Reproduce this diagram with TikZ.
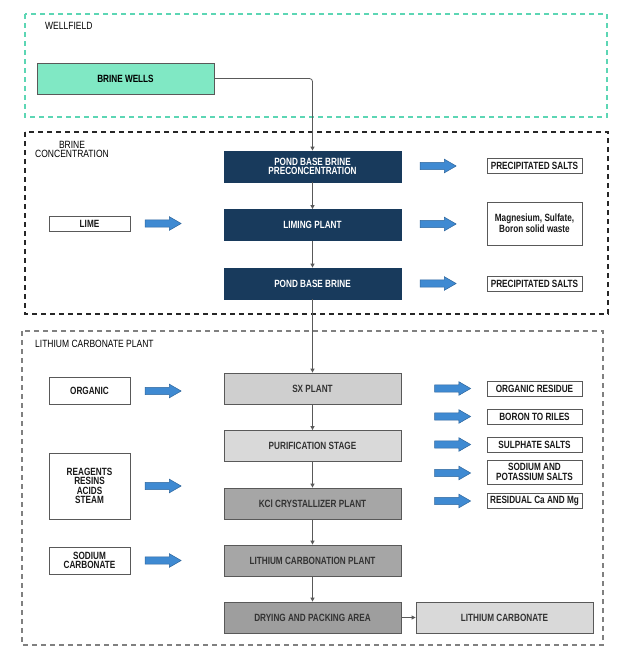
\documentclass[tikz,border=0pt]{standalone}
\usepackage{fontspec}
\usepackage{tikz}
\usetikzlibrary{arrows.meta,shapes.arrows}
\newfontfamily\condfont[FakeStretch=0.81]{Liberation Sans}
\newfontfamily\boxfont[FakeStretch=0.78]{Liberation Sans}
\definecolor{teal}{HTML}{5CD6B4}
\definecolor{mint}{HTML}{80E8C4}
\definecolor{navy}{HTML}{183A5C}
\definecolor{arrowblue}{HTML}{3F8AD2}
\definecolor{edgegray}{HTML}{595959}
\definecolor{lightgray}{HTML}{D9D9D9}
\definecolor{midgray}{HTML}{CFCFCF}
\definecolor{darkgray}{HTML}{A6A6A6}

\begin{document}
\begin{tikzpicture}[x=1pt,y=-1pt,
	every node/.style={font=\condfont\fontsize{10.5}{9.5}\selectfont,inner sep=0pt},
	plantbox/.style={draw=edgegray,line width=0.8pt,minimum width=177pt,minimum height=31pt,align=center,text=black!80,
		font=\boxfont\bfseries\fontsize{10.5}{9.5}\selectfont},
	navybox/.style={plantbox,draw=navy,fill=navy,text=white},
	sidebox/.style={draw=edgegray,line width=0.8pt,fill=white,align=center,text=black!90,
		font=\boxfont\bfseries\fontsize{10.5}{9.5}\selectfont},
	outbox/.style={sidebox,minimum width=95pt,minimum height=15pt},
	inbox/.style={sidebox,minimum width=81pt},
	fatarrow/.style={single arrow,draw=arrowblue!75!black,fill=arrowblue,line width=0.5pt,inner sep=3.4pt,
		minimum height=36pt,single arrow head extend=3.2pt,single arrow tip angle=60},
	flow/.style={draw=edgegray,line width=0.8pt,-{Triangle[width=4pt,length=4pt]}},
	zone/.style={dashed,line width=1.2pt,dash pattern=on 5pt off 4pt}]
	\useasboundingbox (0,0) rectangle (624,662);

	\draw[zone,draw=teal] (25,14) rectangle (607,117);
	\draw[zone,draw=black!85] (25,132) rectangle (608,314);
	\draw[zone,draw=black!50] (22,331) rectangle (603,645);
	\node[anchor=west] (wf) at (45,25.5) {WELLFIELD};
	\node[align=center] (bc) at (72,149.5) {BRINE\\CONCENTRATION};
	\node[anchor=west] (lp) at (35,344) {LITHIUM CARBONATE PLANT};

	\node[plantbox,fill=mint,text=black] (wells) at (125.5,78.5) {BRINE WELLS};

	\node[navybox] (pbp) at (312.5,166.5) {POND BASE BRINE\\PRECONCENTRATION};
	\node[navybox] (liming) at (312.5,225) {LIMING PLANT};
	\node[navybox] (pbb) at (312.5,283.5) {POND BASE BRINE};
	\node[plantbox,fill=midgray] (sx) at (312.5,388.5) {SX PLANT};
	\node[plantbox,fill=lightgray] (pur) at (312.5,446) {PURIFICATION STAGE};
	\node[plantbox,fill=darkgray] (kcl) at (312.5,503.5) {KCl CRYSTALLIZER PLANT};
	\node[plantbox,fill=darkgray] (lcp) at (312.5,560.5) {LITHIUM CARBONATION PLANT};
	\node[plantbox,fill=darkgray!95!black] (dry) at (312.5,617.5) {DRYING AND PACKING AREA};
	\node[plantbox,fill=lightgray] (lico) at (504.5,617.5) {LITHIUM CARBONATE};

	\node[outbox] (ps1) at (534.5,165.5) {PRECIPITATED SALTS};
	\node[outbox,minimum height=43pt] (waste) at (534.5,223.5) {Magnesium, Sulfate,\\Boron solid waste};
	\node[outbox] (ps2) at (534.5,283.5) {PRECIPITATED SALTS};
	\node[outbox] (orgres) at (534.5,388.5) {ORGANIC RESIDUE};
	\node[outbox] (boron) at (534.5,416.5) {BORON TO RILES};
	\node[outbox] (sulph) at (534.5,444.5) {SULPHATE SALTS};
	\node[outbox,minimum height=24pt] (sodpot) at (534.5,472) {SODIUM AND\\POTASSIUM SALTS};
	\node[outbox] (resid) at (534.5,500.5) {RESIDUAL Ca AND Mg};

	\node[inbox,minimum height=15pt] (lime) at (89.5,223.5) {LIME};
	\node[inbox,minimum height=27pt] (organic) at (89.5,390.5) {ORGANIC};
	\node[inbox,minimum height=66pt] (reagents) at (89.5,486) {REAGENTS\\RESINS\\ACIDS\\STEAM};
	\node[inbox,minimum height=27pt] (sodcarb) at (89.5,560.5) {SODIUM\\CARBONATE};

	\node[fatarrow] (a1) at (160,223.5) {};
	\node[fatarrow] (a2) at (160,391) {};
	\node[fatarrow] (a3) at (160,486) {};
	\node[fatarrow] (a4) at (160,560.5) {};
	\node[fatarrow] (b1) at (435,166) {};
	\node[fatarrow] (b2) at (435,224) {};
	\node[fatarrow] (b3) at (435,283.5) {};
	\node[fatarrow] (c1) at (449.5,388.5) {};
	\node[fatarrow] (c2) at (449.5,416.5) {};
	\node[fatarrow] (c3) at (449.5,444.5) {};
	\node[fatarrow] (c4) at (449.5,473) {};
	\node[fatarrow] (c5) at (449.5,501) {};

	\draw[flow,rounded corners=3pt] (wells.east) -| (pbp.north);
	\draw[flow] (pbp) -- (liming);
	\draw[flow] (liming) -- (pbb);
	\draw[flow] (pbb) -- (sx);
	\draw[flow] (sx) -- (pur);
	\draw[flow] (pur) -- (kcl);
	\draw[flow] (kcl) -- (lcp);
	\draw[flow] (lcp) -- (dry);
	\draw[flow] (dry) -- (lico);
\end{tikzpicture}
\end{document}
